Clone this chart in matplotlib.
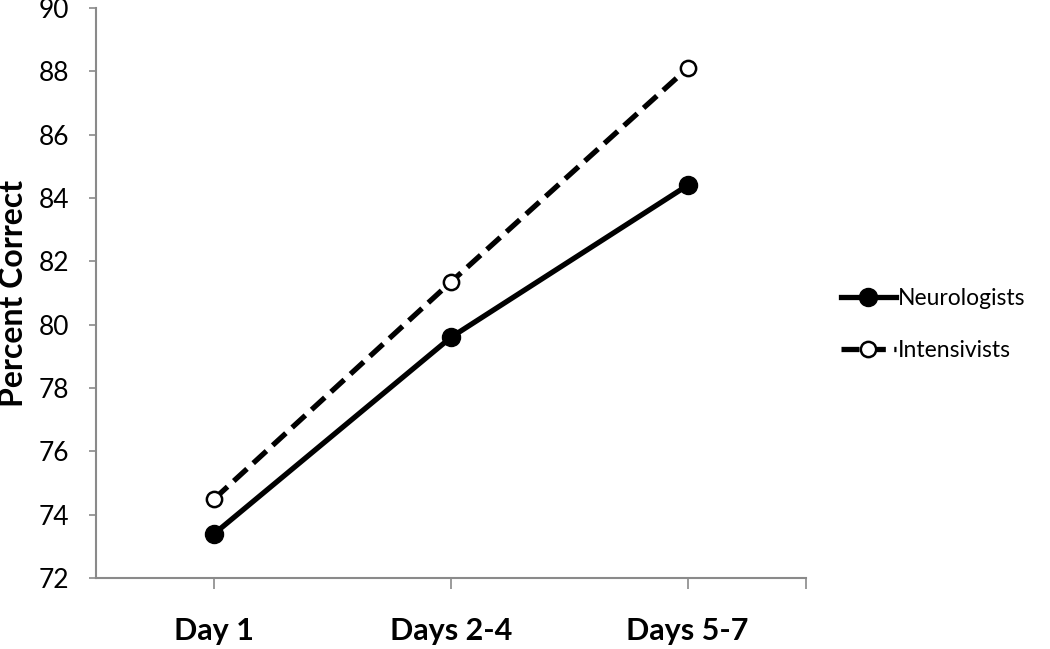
import matplotlib
matplotlib.use("Agg")
import matplotlib.pyplot as plt

categories = ["Day 1", "Days 2-4", "Days 5-7"]
neurologists = [73.4, 79.6, 84.4]
intensivists = [74.5, 81.35, 88.1]
yticks = [72, 74, 76, 78, 80, 82, 84, 86, 88, 90]

plt.rcParams['font.family'] = ['Lato', 'DejaVu Sans']

fig = plt.figure(figsize=(10.5, 6.49), dpi=100)
ax = fig.add_axes([0.0914, 0.1094, 0.6762, 0.8783])

x = list(range(len(categories)))
ax.plot(x, neurologists, color='black', lw=3.8, marker='o', ms=13,
        mfc='black', mec='black', label='Neurologists', zorder=3)
ax.plot(x, intensivists, color='black', lw=3.8, ls=(0, (3.4, 1.6)), marker='o', ms=11,
        mfc='white', mec='black', mew=1.8, label='Intensivists', zorder=3)

ax.set_xlim(-0.5, 2.5)
ax.set_ylim(72, 90)
ax.set_yticks(yticks)
ax.set_yticklabels([str(v) for v in yticks], fontsize=19)
ax.set_xticks(x)
ax.set_xticklabels(categories, fontsize=22, fontweight='bold')
ax.set_xticks([2.5], minor=True)
ax.tick_params(axis='x', which='both', length=8, width=1.2, color='#8a8a8a', pad=20)
ax.tick_params(axis='y', length=5, width=1.2, color='#8a8a8a', pad=14)
ax.set_ylabel("Percent Correct", fontsize=23, fontweight='bold', labelpad=8)

for s in ['top', 'right']:
    ax.spines[s].set_visible(False)
for s in ['left', 'bottom']:
    ax.spines[s].set_color('#8a8a8a')
    ax.spines[s].set_linewidth(1.5)

fig.legend(loc='center left', bbox_to_anchor=(0.781, 0.5), frameon=False,
           fontsize=16.5, handlelength=2.4, handletextpad=0.1, labelspacing=1.35)

fig.savefig("out.png", dpi=100)
